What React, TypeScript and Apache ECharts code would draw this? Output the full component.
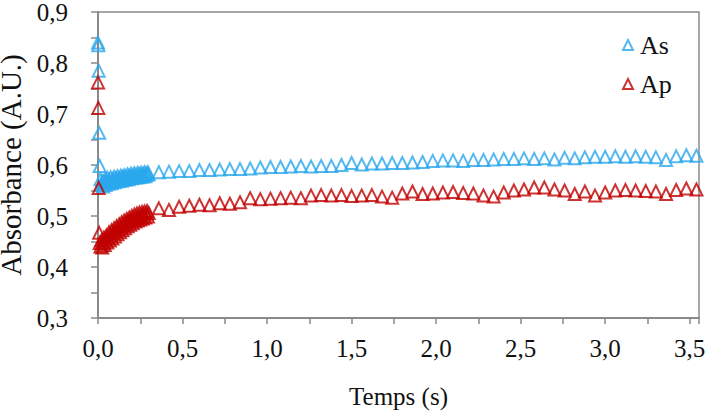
import React, { useEffect, useRef } from "react";
import * as echarts from "echarts";

const timeEarly = [0.000, 0.002, 0.004, 0.007, 0.010,
  0.015, 0.020, 0.025, 0.030, 0.035, 0.040, 0.045, 0.050, 0.055, 0.060,
  0.065, 0.070, 0.075, 0.080, 0.085, 0.090, 0.095, 0.100, 0.105, 0.110,
  0.115, 0.120, 0.125, 0.130, 0.135, 0.140, 0.145, 0.150, 0.155, 0.160,
  0.165, 0.170, 0.175, 0.180, 0.185, 0.190, 0.195, 0.200, 0.205, 0.210,
  0.215, 0.220, 0.225, 0.230, 0.235, 0.240, 0.245, 0.250, 0.255, 0.260,
  0.265, 0.270, 0.275, 0.280, 0.285, 0.290, 0.295, 0.300];
const asEarly = [0.840, 0.835, 0.785, 0.663, 0.598,
  0.572, 0.562, 0.568, 0.558, 0.566, 0.572, 0.561, 0.569, 0.575, 0.563,
  0.570, 0.566, 0.576, 0.564, 0.572, 0.568, 0.577, 0.566, 0.574, 0.570,
  0.578, 0.568, 0.575, 0.571, 0.579, 0.569, 0.577, 0.573, 0.580, 0.571,
  0.578, 0.574, 0.582, 0.572, 0.579, 0.575, 0.583, 0.574, 0.580, 0.577,
  0.584, 0.575, 0.581, 0.578, 0.585, 0.576, 0.582, 0.579, 0.585, 0.577,
  0.583, 0.580, 0.586, 0.578, 0.584, 0.581, 0.586, 0.582];
const apEarly = [0.762, 0.712, 0.555, 0.467, 0.447,
  0.440, 0.452, 0.438, 0.447, 0.458, 0.443, 0.452, 0.462, 0.448, 0.457,
  0.468, 0.452, 0.462, 0.472, 0.456, 0.466, 0.476, 0.460, 0.470, 0.480,
  0.464, 0.474, 0.484, 0.468, 0.478, 0.488, 0.472, 0.482, 0.491, 0.476,
  0.486, 0.494, 0.480, 0.489, 0.497, 0.483, 0.492, 0.500, 0.486, 0.495,
  0.503, 0.489, 0.497, 0.505, 0.491, 0.499, 0.507, 0.493, 0.501, 0.508,
  0.495, 0.503, 0.509, 0.497, 0.505, 0.510, 0.499, 0.506];

const timeLate = [0.36, 0.42, 0.48, 0.54, 0.60, 0.66, 0.72, 0.78, 0.84, 0.90, 0.96, 1.02, 1.08, 1.14, 1.20, 1.26, 1.32, 1.38, 1.44, 1.50, 1.56, 1.62, 1.68, 1.74, 1.80, 1.86, 1.92, 1.98, 2.04, 2.10, 2.16, 2.22, 2.28, 2.34, 2.40, 2.46, 2.52, 2.58, 2.64, 2.70, 2.76, 2.82, 2.88, 2.94, 3.00, 3.06, 3.12, 3.18, 3.24, 3.30, 3.36, 3.42, 3.48, 3.54];
const asLate = [0.586, 0.587, 0.588, 0.588, 0.590, 0.590, 0.591, 0.592, 0.592, 0.593, 0.595, 0.596, 0.596, 0.597, 0.598, 0.597, 0.598, 0.598, 0.600, 0.604, 0.601, 0.603, 0.603, 0.604, 0.604, 0.605, 0.606, 0.608, 0.609, 0.609, 0.608, 0.610, 0.610, 0.611, 0.612, 0.612, 0.613, 0.612, 0.613, 0.611, 0.614, 0.613, 0.615, 0.616, 0.616, 0.617, 0.616, 0.617, 0.616, 0.615, 0.610, 0.617, 0.619, 0.618];
const apLate = [0.515, 0.512, 0.518, 0.520, 0.522, 0.521, 0.525, 0.524, 0.527, 0.535, 0.533, 0.534, 0.535, 0.536, 0.535, 0.540, 0.541, 0.540, 0.541, 0.539, 0.540, 0.541, 0.538, 0.536, 0.544, 0.548, 0.543, 0.544, 0.546, 0.547, 0.545, 0.544, 0.540, 0.538, 0.546, 0.550, 0.552, 0.556, 0.556, 0.552, 0.550, 0.543, 0.548, 0.540, 0.546, 0.550, 0.551, 0.550, 0.549, 0.548, 0.543, 0.551, 0.554, 0.552];

const seriesNames = ["As", "Ap"];
const xTitle = "Temps (s)";
const yTitle = "Absorbance (A.U.)";

const FONT = "Liberation Serif";
const BLUE = "#2AA8EC";
const RED = "#C00000";
const AXIS = "#8A8A8A";

function pairs(t: number[], v: number[]) {
  return t.map((x, i) => [x, v[i]]);
}

export default function App() {
  const ref = useRef<HTMLDivElement>(null);
  useEffect(() => {
    if (!ref.current) return;
    const chart = echarts.init(ref.current, undefined, { renderer: "svg" });
    const fmt = (v: number) => v.toFixed(1).replace(".", ",");
    chart.setOption({
      animation: false,
      backgroundColor: "#ffffff",
      textStyle: { fontFamily: FONT, fontSize: 25, color: "#111" },
      grid: {
        left: 98,
        top: 12,
        right: 10,
        bottom: 96,
        show: true,
        borderColor: AXIS,
        borderWidth: 1.5,
        containLabel: false,
        outerBoundsMode: "none",
      },
      legend: {
        data: seriesNames,
        orient: "vertical",
        left: 617,
        top: 27,
        itemWidth: 10,
        itemHeight: 10,
        itemGap: 13,
        textStyle: { fontFamily: FONT, fontSize: 26, color: "#111", padding: [0, 0, 0, 2] },
      },
      xAxis: {
        type: "value",
        min: 0,
        max: 3.555,
        interval: 0.5,
        name: xTitle,
        nameLocation: "middle",
        nameGap: 66,
        nameTextStyle: { fontFamily: FONT, fontSize: 25, color: "#111" },
        axisLine: { show: true, lineStyle: { color: AXIS, width: 2 } },
        axisTick: { show: true, length: 6, lineStyle: { color: AXIS, width: 1.5 } },
        minorTick: { show: true, splitNumber: 2, length: 6, lineStyle: { color: AXIS, width: 1.5 } },
        splitLine: { show: false },
        axisLabel: {
          fontFamily: FONT,
          fontSize: 25,
          color: "#111",
          margin: 18,
          formatter: (v: number) =>
            Math.abs(v * 2 - Math.round(v * 2)) < 1e-6 ? fmt(v) : "",
        },
      },
      yAxis: {
        type: "value",
        min: 0.3,
        max: 0.9,
        interval: 0.1,
        name: yTitle,
        nameLocation: "middle",
        nameGap: 66,
        nameTextStyle: { fontFamily: FONT, fontSize: 29, color: "#111" },
        axisLine: { show: true, lineStyle: { color: AXIS, width: 2 } },
        axisTick: { show: true, length: 7, lineStyle: { color: AXIS, width: 1.5 } },
        minorTick: { show: true, splitNumber: 2, length: 7, lineStyle: { color: AXIS, width: 1.5 } },
        splitLine: { show: false },
        axisLabel: {
          fontFamily: FONT,
          fontSize: 25,
          lineHeight: 20,
          color: "#111",
          margin: 30,
          formatter: (v: number) => fmt(v),
        },
      },
      series: [
        {
          name: seriesNames[0],
          type: "scatter",
          symbol: "triangle",
          symbolSize: [12, 12],
          itemStyle: { color: "rgba(0,0,0,0)", borderColor: BLUE, borderWidth: 2 },
          data: pairs(timeEarly, asEarly).concat(pairs(timeLate, asLate)),
        },
        {
          name: seriesNames[1],
          type: "scatter",
          symbol: "triangle",
          symbolSize: [12, 12],
          itemStyle: { color: "rgba(0,0,0,0)", borderColor: RED, borderWidth: 2 },
          data: pairs(timeEarly, apEarly).concat(pairs(timeLate, apLate)),
        },
      ],
    });
    return () => chart.dispose();
  }, []);
  return (
    <div
      ref={ref}
      style={{ position: "fixed", left: 0, top: 0, width: 709, height: 414, background: "#fff" }}
    />
  );
}
